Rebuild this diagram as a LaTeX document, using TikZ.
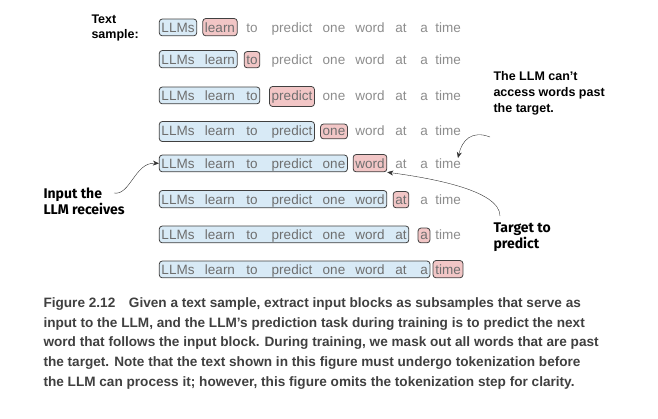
\documentclass[tikz,border=0pt]{standalone}
\usepackage{fontspec}
\setmainfont{Liberation Sans}
\newfontfamily\notefont{Fira Sans}
\usetikzlibrary{fit,backgrounds,arrows.meta}
\definecolor{inblue}{HTML}{D8EAF6}
\definecolor{tgtred}{HTML}{F2C6C6}
\definecolor{wordgray}{HTML}{6E6E6E}
\definecolor{restgray}{HTML}{8C8C8C}
\tikzset{
  word/.style={inner sep=0pt, anchor=base, font=\fontsize{13.5}{16}\selectfont},
  inbox/.style={draw=black!75, fill=inblue, rounded corners=3pt, inner xsep=2pt, inner ysep=3.5pt, thick},
  tgtbox/.style={draw=black!75, fill=tgtred, rounded corners=3pt, inner xsep=2pt, inner ysep=3.5pt, thick},
  note/.style={font=\notefont\bfseries\fontsize{14}{16}\selectfont, align=left},
  pointer/.style={-{Stealth[length=6pt,width=5pt]}, black!80, thin}
}
\begin{document}
\begin{tikzpicture}[x=1pt,y=-1pt]
\useasboundingbox (0,0) rectangle (658,418);
% text sample, one row per target word
\foreach \r/\y in {2/27,3/59,4/95,5/130,6/163,7/199,8/234,9/269}{
  \foreach \t/\x [count=\i] in {LLMs/178,learn/220,to/252,predict/292,one/334,word/370,at/401,a/424,time/448}{
    \pgfmathsetmacro{\shade}{\i<=\r ? "wordgray" : "restgray"}
    \node[word, text=\shade] (w\r-\i) at (\x,\y+5) {\t};
  }
  \pgfmathtruncatemacro{\p}{\r-1}
  \begin{scope}[on background layer]
    \node[inbox, fit=(w\r-1)(w\r-\p)] (in\r) {};
    \node[tgtbox, fit=(w\r-\r)] (tg\r) {};
  \end{scope}
}
\node[note, anchor=north west, font=\bfseries\fontsize{12.5}{15}\selectfont] (sample) at (88,11) {Text\\sample:};
\node[note, anchor=north west, font=\bfseries\fontsize{12.5}{16}\selectfont] (past) at (490,68) {The LLM can't\\access words past\\the target.};
\node[note, anchor=north west] (input) at (40,184) {Input the\\LLM receives};
\node[note, anchor=north west] (target) at (490,219) {Target to\\predict};
\coordinate (pastend) at (458,158);
\draw[pointer] (490,137) .. controls (472,130) and (462,140) .. (pastend);
\draw[pointer] (114,193) .. controls (130,196) and (135,162) .. (in6.west);
\draw[pointer] (500,216) .. controls (500,190) and (430,178) .. (tg6.south east);
\node[anchor=north west, align=left, font=\bfseries\fontsize{13.6}{19.7}\selectfont, text=black!75] (caption) at (40,294)
{Figure 2.12\quad Given a text sample, extract input blocks as subsamples that serve as\\
input to the LLM, and the LLM's prediction task during training is to predict the next\\
word that follows the input block. During training, we mask out all words that are past\\
the target. Note that the text shown in this figure must undergo tokenization before\\
the LLM can process it; however, this figure omits the tokenization step for clarity.};
\end{tikzpicture}
\end{document}
